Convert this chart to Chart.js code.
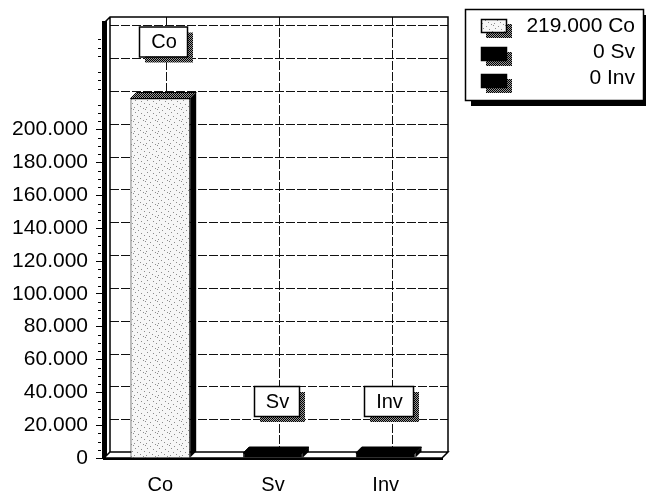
<!DOCTYPE html>
<html>
<head>
<meta charset="utf-8">
<script src="https://cdn.jsdelivr.net/npm/chart.js@4/dist/chart.umd.min.js"></script>
<style>
  html, body { margin: 0; padding: 0; background: #fff; }
  canvas { display: block; }
</style>
</head>
<body>
<canvas id="myChart" width="646" height="497"></canvas>
<script>
// data
const categories = ['Co', 'Sv', 'Inv'];
const values = [219000, 0, 0];
const yTicks = [0, 20000, 40000, 60000, 80000, 100000, 120000, 140000,
  160000, 180000, 200000, 220000, 240000, 260000];
const yMax = 265000;
const yLabelMax = 200000;

const FONT = '"Liberation Sans", Arial, sans-serif';
const depth = { dx: 6, dy: -6 };

function fmt(v) {
  return String(Math.round(v)).replace(/\B(?=(\d{3})+(?!\d))/g, '.');
}

function makePattern(bg, fg, dots, size) {
  const c = document.createElement('canvas');
  c.width = size; c.height = size;
  const g = c.getContext('2d');
  g.fillStyle = bg;
  g.fillRect(0, 0, size, size);
  g.fillStyle = fg;
  dots.forEach(d => g.fillRect(d[0], d[1], 1, 1));
  return g.createPattern(c, 'repeat');
}

const ctx = document.getElementById('myChart').getContext('2d');
const stipple = makePattern('#f6f6f6', '#8c8c8c',
  [[1, 1], [6, 2], [3, 4], [9, 5], [0, 7], [5, 8], [8, 10], [2, 11], [11, 0]], 12);
const hatch = makePattern('#9a9a9a', '#000',
  [[0, 0], [2, 0], [1, 1], [3, 1], [0, 2], [2, 2], [1, 3], [3, 3]], 4);
const barColors = [stipple, '#000', '#000'];

// back wall, gridlines and floor
const wallPlugin = {
  id: 'wall',
  beforeDatasetsDraw(chart) {
    const { left, right, top, bottom } = chart.chartArea;
    const ys = chart.scales.y, xs = chart.scales.x;
    const { dx, dy } = depth;
    const c = chart.ctx;
    c.save();
    c.lineWidth = 1;
    c.strokeStyle = '#111';
    c.setLineDash([9, 2]);
    ys.ticks.forEach(t => {
      if (t.value <= 0 || t.value >= yMax) return;
      const y = Math.round(ys.getPixelForValue(t.value) + dy) + 0.5;
      c.beginPath(); c.moveTo(left + dx, y); c.lineTo(right + dx, y); c.stroke();
    });
    categories.forEach((cat, i) => {
      const x = Math.round(xs.getPixelForValue(i) + dx) + 0.5;
      c.beginPath(); c.moveTo(x, top + dy); c.lineTo(x, bottom + dy); c.stroke();
    });
    c.setLineDash([]);
    c.strokeStyle = '#000';
    c.lineWidth = 1.5;
    c.beginPath();
    c.moveTo(left, top);
    c.lineTo(left + dx, top + dy);
    c.lineTo(right + dx, top + dy);
    c.lineTo(right + dx, bottom + dy);
    c.moveTo(left + dx, top + dy);
    c.lineTo(left + dx, bottom + dy);
    c.stroke();
    // floor
    c.beginPath();
    c.moveTo(left, bottom);
    c.lineTo(left + dx, bottom + dy);
    c.lineTo(right + dx, bottom + dy);
    c.lineTo(right, bottom);
    c.closePath();
    c.fillStyle = '#fff';
    c.fill();
    c.stroke();
    // minor ticks on the value axis
    c.lineWidth = 1;
    for (let i = 0; i < yTicks.length - 1; i++) {
      for (let k = 1; k < 4; k++) {
        const v = yTicks[i] + (yTicks[i + 1] - yTicks[i]) * k / 4;
        const y = Math.round(ys.getPixelForValue(v)) + 0.5;
        c.beginPath(); c.moveTo(left - 6, y); c.lineTo(left - 3, y); c.stroke();
      }
    }
    c.restore();
  },
  afterDatasetsDraw(chart) {
    const meta = chart.getDatasetMeta(0);
    const ys = chart.scales.y;
    const { dx, dy } = depth;
    const c = chart.ctx;
    c.save();
    meta.data.forEach((el, i) => {
      const p = el.getProps(['x', 'y', 'base', 'width'], true);
      const l = p.x - p.width / 2, r = p.x + p.width / 2;
      // side face
      c.beginPath();
      c.moveTo(r, p.y); c.lineTo(r + dx, p.y + dy);
      c.lineTo(r + dx, p.base + dy); c.lineTo(r, p.base);
      c.closePath();
      c.fillStyle = '#000'; c.fill();
      // top face
      c.beginPath();
      c.moveTo(l, p.y); c.lineTo(l + dx, p.y + dy);
      c.lineTo(r + dx, p.y + dy); c.lineTo(r, p.y);
      c.closePath();
      c.fillStyle = i === 0 ? hatch : '#000'; c.fill();
      c.strokeStyle = '#000'; c.lineWidth = 1; c.stroke();
    });
    // value labels in boxes
    c.font = '20px ' + FONT;
    c.textAlign = 'center';
    c.textBaseline = 'middle';
    meta.data.forEach((el, i) => {
      const text = categories[i];
      const bw = Math.round(c.measureText(text).width + 22);
      const bh = 30;
      const cx = el.x + 3;
      const by = ys.getPixelForValue(values[i]) - 42;
      const bx = Math.round(cx - bw / 2);
      c.fillStyle = hatch;
      c.fillRect(bx + 6, by - bh + 6, bw, bh);
      c.fillStyle = '#fff';
      c.fillRect(bx, by - bh, bw, bh);
      c.strokeStyle = '#000'; c.lineWidth = 1.5;
      c.strokeRect(bx + 0.5, by - bh + 0.5, bw, bh);
      c.fillStyle = '#000';
      c.fillText(text, bx + bw / 2 + 1, by - bh / 2 + 1);
    });
    c.restore();
  },
  afterDraw(chart) {
    const c = chart.ctx;
    c.save();
    // legend box
    const lx = 465, ly = 9, lw = 178, lh = 91;
    c.fillStyle = '#000';
    c.fillRect(lx + 6, ly + lh, lw, 6);
    c.fillRect(lx + lw, ly + 6, 4, lh);
    c.fillStyle = '#fff';
    c.fillRect(lx, ly, lw, lh);
    c.strokeStyle = '#000'; c.lineWidth = 1.5;
    c.strokeRect(lx + 0.5, ly + 0.5, lw, lh);
    c.font = '21px ' + FONT;
    c.textAlign = 'right';
    c.textBaseline = 'middle';
    categories.forEach((cat, i) => {
      const sy = Math.round(19 + i * 27.5);
      c.fillStyle = hatch;
      c.fillRect(486, sy + 5, 26, 14);
      c.fillStyle = barColors[i];
      c.fillRect(481, sy, 26, 14);
      c.strokeStyle = '#000'; c.lineWidth = 1.5;
      c.strokeRect(481.5, sy + 0.5, 25, 13);
      c.fillStyle = '#000';
      c.fillText(fmt(values[i]) + ' ' + cat, 635, 26 + i * 26);
    });
    c.restore();
  }
};

new Chart(ctx, {
  type: 'bar',
  data: {
    labels: categories,
    datasets: [{
      data: values,
      backgroundColor: barColors,
      borderColor: '#000',
      borderWidth: { left: 1, top: 1, right: 1, bottom: 0 },
      borderSkipped: false,
      minBarLength: 5,
      barPercentage: 0.53,
      categoryPercentage: 1
    }]
  },
  options: {
    responsive: false,
    devicePixelRatio: 1,
    animation: false,
    layout: { padding: { left: 0, top: 23, right: 204, bottom: 0 } },
    plugins: { legend: { display: false }, tooltip: { enabled: false } },
    scales: {
      x: {
        afterFit: s => { s.height = 39; },
        grid: { display: true, drawOnChartArea: false, drawTicks: false },
        border: { display: true, color: '#000', width: 3 },
        ticks: { color: '#000', font: { family: FONT, size: 20 }, padding: 15 }
      },
      y: {
        min: 0,
        max: yMax,
        afterFit: s => { s.width = 104; },
        afterBuildTicks: s => { s.ticks = yTicks.map(v => ({ value: v })); },
        grid: {
          drawOnChartArea: false,
          tickLength: 8,
          color: ctx => (ctx.tick && ctx.tick.value <= yLabelMax ? '#000' : 'rgba(0,0,0,0)')
        },
        border: { display: true, color: '#000', width: 5 },
        ticks: {
          autoSkip: false,
          padding: 8,
          color: '#000',
          font: { family: FONT, size: 21 },
          callback: v => (v <= yLabelMax ? fmt(v) : '')
        }
      }
    }
  },
  plugins: [wallPlugin]
});
</script>
</body>
</html>
